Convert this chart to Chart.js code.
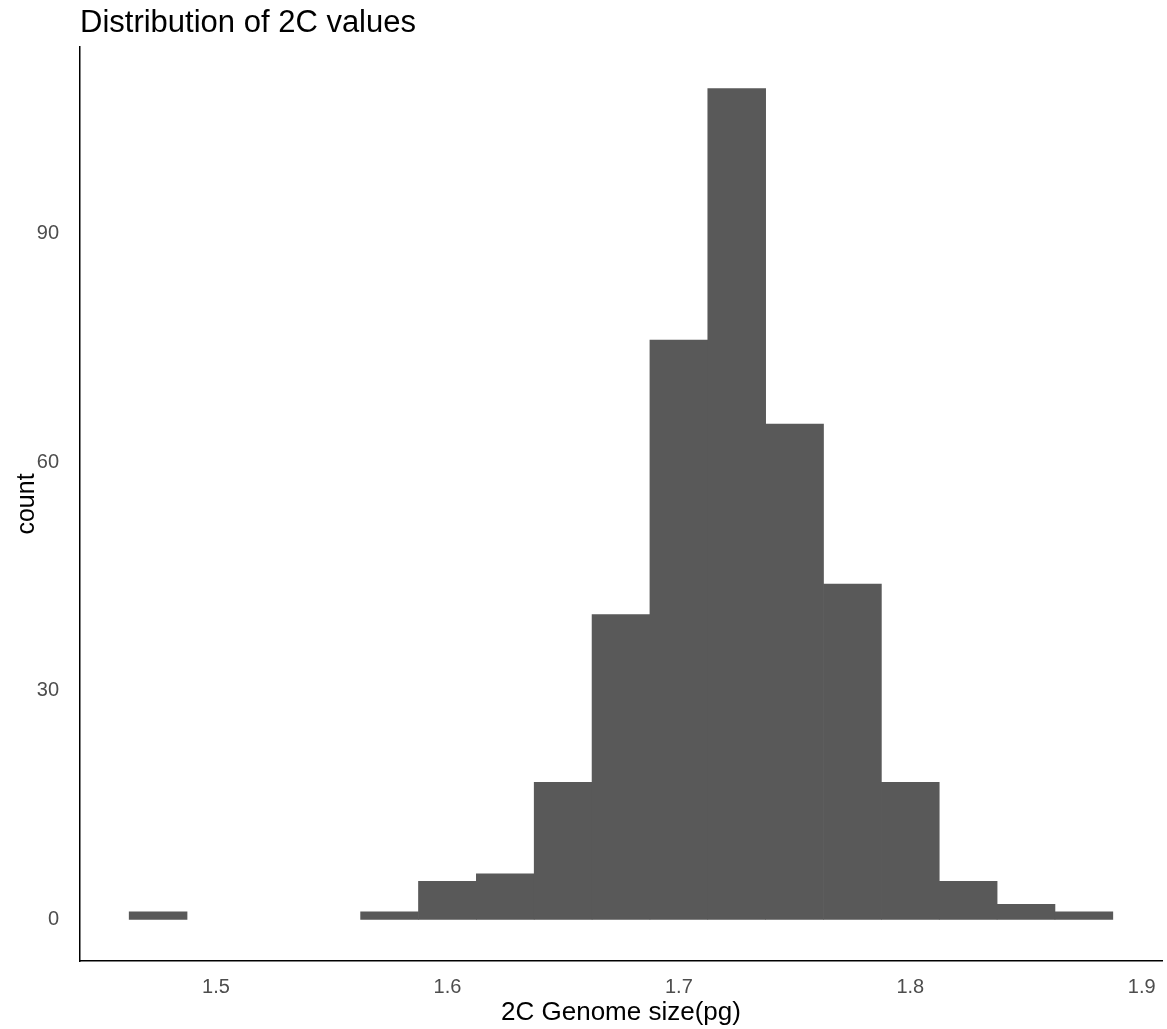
<!DOCTYPE html>
<html>
<head>
<meta charset="utf-8">
<title>Distribution of 2C values</title>
<script src="https://cdn.jsdelivr.net/npm/chart.js@4.4.1/dist/chart.umd.min.js"></script>
<style>
  html, body { margin: 0; padding: 0; background: #fff; }
  canvas { display: block; }
</style>
</head>
<body>
<canvas id="histChart" width="1167" height="1029"></canvas>
<script>
// histogram bins (width 0.025 pg), centre of each bin
const binCentres = [1.475, 1.5, 1.525, 1.55, 1.575, 1.6, 1.625, 1.65, 1.675, 1.7, 1.725, 1.75, 1.775, 1.8, 1.825, 1.85, 1.875];
const counts = [1, 0, 0, 0, 1, 5, 6, 18, 40, 76, 109, 65, 44, 18, 5, 2, 1];
const xTicks = [1.5, 1.6, 1.7, 1.8, 1.9];
const yTicks = [0, 30, 60, 90];
const binWidth = 0.025;

const chartTitle = 'Distribution of 2C values';
const xTitle = '2C Genome size(pg)';
const yTitle = 'count';

const fontFamily = '"Liberation Sans", Arial, sans-serif';

// ggplot-style 5% expansion of the data range
const xLo = binCentres[0] - binWidth / 2;
const xHi = binCentres[binCentres.length - 1] + binWidth / 2;
const xPad = (xHi - xLo) * 0.05;
const yMax = Math.max(...counts);
const yPad = yMax * 0.05;

// title drawn left-aligned with the plot panel
const panelTitle = {
  id: 'panelTitle',
  afterDraw(chart) {
    const c = chart.ctx;
    c.save();
    c.font = '31px ' + fontFamily;
    c.fillStyle = '#000';
    c.textAlign = 'left';
    c.textBaseline = 'alphabetic';
    c.fillText(chartTitle, chart.chartArea.left, 32);
    c.restore();
  }
};

const ctx = document.getElementById('histChart');
new Chart(ctx, {
  type: 'bar',
  data: {
    datasets: [{
      label: 'count',
      // empty bins are left out so they draw nothing
      data: binCentres.map((x, i) => ({ x: x, y: counts[i] === 0 ? null : counts[i] })),
      backgroundColor: '#595959',
      borderWidth: 0,
      barPercentage: 1,
      categoryPercentage: 1
    }]
  },
  options: {
    responsive: false,
    animation: false,
    layout: { padding: { top: 47, right: 5, bottom: 0, left: 0 } },
    plugins: {
      legend: { display: false },
      tooltip: { enabled: false }
    },
    scales: {
      x: {
        type: 'linear',
        offset: false,
        min: xLo - xPad,
        max: xHi + xPad,
        afterBuildTicks: (scale) => { scale.ticks = xTicks.map(v => ({ value: v })); },
        afterFit: (scale) => { scale.height = 68; },
        grid: { display: false },
        border: { display: true, color: '#000', width: 1.5 },
        ticks: {
          color: '#4d4d4d',
          font: { family: fontFamily, size: 20 },
          padding: 6,
          maxRotation: 0,
          callback: (v) => v.toFixed(1)
        },
        title: {
          display: true,
          text: xTitle,
          color: '#000',
          font: { family: fontFamily, size: 26 },
          padding: { top: 0, bottom: 1 }
        }
      },
      y: {
        min: -yPad,
        max: yMax + yPad,
        afterBuildTicks: (scale) => { scale.ticks = yTicks.map(v => ({ value: v })); },
        afterFit: (scale) => { scale.width = 80; },
        grid: { display: false },
        border: { display: true, color: '#000', width: 1.5 },
        ticks: {
          color: '#4d4d4d',
          font: { family: fontFamily, size: 20 },
          padding: 13
        },
        title: {
          display: true,
          text: yTitle,
          color: '#000',
          font: { family: fontFamily, size: 25 },
          padding: { top: 12, bottom: 0 }
        }
      }
    }
  },
  plugins: [panelTitle]
});
</script>
</body>
</html>
